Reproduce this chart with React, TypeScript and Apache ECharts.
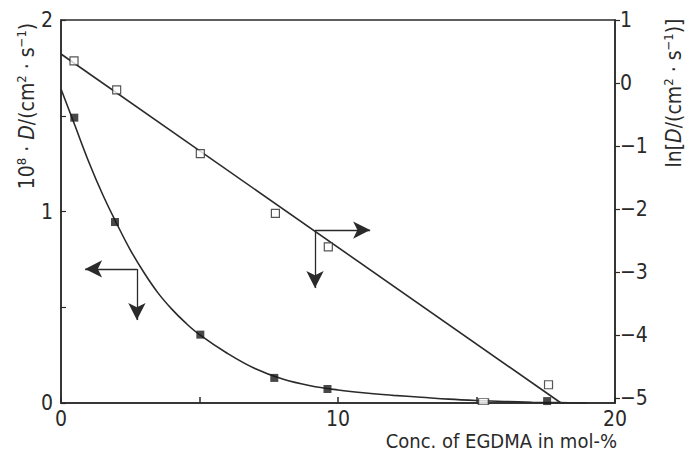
import React, { useEffect, useRef } from "react";
import * as echarts from "echarts";

// Measured points: D (left axis, 10^8 D / cm^2 s^-1), filled squares
const dX = [0.48, 1.95, 5.03, 7.7, 9.62, 17.55];
const dY = [1.49, 0.945, 0.357, 0.131, 0.073, 0.01];
// hollow marker lying on the bottom axis (left scale)
const dOpenX = [15.25];
const dOpenY = [0.007];

// Fitted curve for D
const curveX = [0, 0.5, 1, 1.5, 2, 2.5, 3, 3.5, 4, 4.5, 5, 6, 7, 8, 9, 10, 11, 12, 13, 14, 15, 16, 17, 18, 19];
const curveY = [1.64, 1.45, 1.26, 1.09, 0.94, 0.8, 0.68, 0.575, 0.49, 0.418, 0.357, 0.26, 0.18, 0.125, 0.09, 0.068, 0.052, 0.04, 0.03, 0.02, 0.013, 0.008, 0.004, 0.002, 0.0];

// ln D (right axis), open squares
const lnX = [0.47, 2.01, 5.03, 7.74, 9.65, 17.6];
const lnY = [0.35, -0.11, -1.12, -2.07, -2.6, -4.79];

// Fitted straight line for ln D
const lnLineX = [0, 18.05];
const lnLineY = [0.46, -5.08];

// Arrow indicators (left-axis data space)
const arrowLeft = { from: [2.74, 0.7], toSide: [0.87, 0.7], toDown: [2.74, 0.433] };
const arrowRight = { from: [9.17, 0.903], toSide: [11.16, 0.903], toDown: [9.17, 0.6] };

const xLabels = [0, 10, 20];
const leftLabels = [0, 1, 2];
const rightTicks = [-5, -4, -3, -2, -1, 0, 1];

const FONT = "'DejaVu Sans Condensed', 'Liberation Sans Narrow', 'DejaVu Sans', sans-serif";
const INK = "#2a2a2a";

export default function App() {
  const ref = useRef<HTMLDivElement>(null);
  useEffect(() => {
    document.body.style.margin = "0";
    if (!ref.current) return;
    const chart = echarts.init(ref.current, undefined, { renderer: "svg" });
    const zip = (a: number[], b: number[]) => a.map((v, i) => [v, b[i]]);
    const arrowLines = (a: any) => [
      [{ coord: a.from }, { coord: a.toSide }],
      [{ coord: a.from }, { coord: a.toDown }],
    ];
    const richTitle = {
      sup: { fontSize: 13, fontFamily: FONT, fill: INK, verticalAlign: "top", lineHeight: 24 },
      i: { fontSize: 21, fontFamily: FONT, fontStyle: "italic", fill: INK, lineHeight: 24 },
    };
    chart.setOption({
      animation: false,
      backgroundColor: "#ffffff",
      grid: {
        left: 61,
        right: 77,
        top: 20,
        bottom: 58,
        show: true,
        borderColor: INK,
        borderWidth: 1.5,
        backgroundColor: "transparent",
      },
      xAxis: {
        type: "value",
        min: 0,
        max: 20,
        interval: 5,
        axisLine: { show: true, lineStyle: { color: INK, width: 1.5 } },
        axisTick: { show: true, inside: true, length: 6, lineStyle: { color: INK, width: 1.5 } },
        splitLine: { show: false },
        axisLabel: {
          color: INK,
          fontSize: 21,
          fontFamily: FONT,
          margin: 5,
          formatter: (v: number) => (xLabels.includes(v) ? String(v) : ""),
        },
      },
      yAxis: [
        {
          type: "value",
          min: 0,
          max: 2,
          interval: 0.5,
          axisLine: { show: true, lineStyle: { color: INK, width: 1.5 } },
          axisTick: { show: true, inside: true, length: 5, lineStyle: { color: INK, width: 1.2 } },
          splitLine: { show: false },
          axisLabel: {
            color: INK,
            fontSize: 21,
            fontFamily: FONT,
            margin: 8,
            formatter: (v: number) => (leftLabels.includes(v) ? String(v) : ""),
          },
        },
        {
          type: "value",
          min: -5.08,
          max: 1,
          position: "right",
          axisLine: { show: true, lineStyle: { color: INK, width: 1.5 } },
          axisTick: { show: true, inside: false, length: 5, customValues: rightTicks, lineStyle: { color: INK, width: 1.2 } },
          splitLine: { show: false },
          axisLabel: {
            color: INK,
            fontSize: 21,
            fontFamily: FONT,
            margin: 5,
            customValues: rightTicks,
            formatter: (v: number) => (v < 0 ? "\u2212" + Math.abs(v) : String(v)),
          },
        },
      ],
      graphic: [
        {
          type: "text",
          x: 27,
          y: 106,
          rotation: Math.PI / 2,
          style: {
            text: "10{sup|8} \u00b7 {i|D}/(cm{sup|2} \u00b7 s{sup|\u22121})",
            fontSize: 21,
            fontFamily: FONT,
            fill: INK,
            align: "center",
            verticalAlign: "middle",
            lineHeight: 24,
            rich: richTitle,
          },
        },
        {
          type: "text",
          x: 674,
          y: 93,
          rotation: Math.PI / 2,
          style: {
            text: "ln[{i|D}/(cm{sup|2} \u00b7 s{sup|\u22121})]",
            fontSize: 21,
            fontFamily: FONT,
            fill: INK,
            align: "center",
            verticalAlign: "middle",
            lineHeight: 24,
            rich: richTitle,
          },
        },
        {
          type: "text",
          x: 617,
          y: 441,
          style: {
            text: "Conc. of EGDMA in mol-%",
            fontSize: 20,
            fontFamily: FONT,
            fill: INK,
            align: "right",
            verticalAlign: "middle",
          },
        },
      ],
      series: [
        {
          name: "D fit",
          type: "line",
          yAxisIndex: 0,
          data: zip(curveX, curveY),
          smooth: 0.4,
          showSymbol: false,
          symbol: "none",
          lineStyle: { color: INK, width: 1.6 },
          z: 2,
          markLine: {
            silent: true,
            symbol: ["none", "arrow"],
            symbolSize: [13, 17],
            label: { show: false },
            lineStyle: { color: INK, width: 1.3, type: "solid" },
            data: [...arrowLines(arrowLeft), ...arrowLines(arrowRight)],
          },
        },
        {
          name: "ln D fit",
          type: "line",
          yAxisIndex: 1,
          data: zip(lnLineX, lnLineY),
          showSymbol: false,
          symbol: "none",
          lineStyle: { color: INK, width: 1.6 },
          z: 2,
        },
        {
          name: "D",
          type: "scatter",
          yAxisIndex: 0,
          data: zip(dX, dY),
          symbol: "rect",
          symbolSize: 8,
          itemStyle: { color: "#1a1a1a" },
          z: 3,
        },
        {
          name: "D open",
          type: "scatter",
          yAxisIndex: 0,
          data: zip(dOpenX, dOpenY),
          symbol: "rect",
          symbolSize: [10, 6],
          itemStyle: { color: "#ffffff", borderColor: INK, borderWidth: 1.2 },
          z: 3,
        },
        {
          name: "ln D",
          type: "scatter",
          yAxisIndex: 1,
          data: zip(lnX, lnY),
          symbol: "rect",
          symbolSize: 8,
          itemStyle: { color: "#ffffff", borderColor: INK, borderWidth: 1.2 },
          z: 3,
        },
      ],
    });
    return () => chart.dispose();
  }, []);
  return <div ref={ref} style={{ width: 692, height: 461 }} />;
}
